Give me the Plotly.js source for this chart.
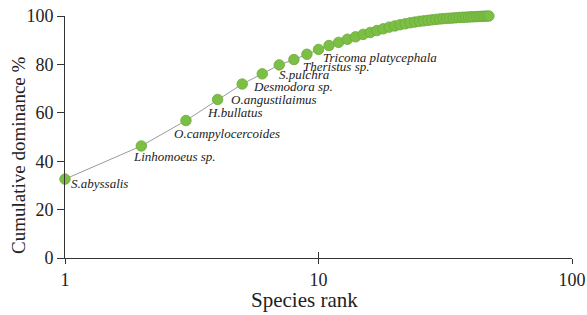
<!DOCTYPE html>
<html>
<head>
<meta charset="utf-8">
<script src="https://cdn.plot.ly/plotly-3.0.1.min.js"></script>
<style>html,body{margin:0;padding:0;background:#fff;}#chart{width:587px;height:315px;}</style>
</head>
<body>
<div id="chart"></div>
<script>
// Species rank (1..47) and cumulative dominance (%)
const ranks = [];
for (let i = 1; i <= 47; i++) ranks.push(i);
const cumDominance = [
  32.6, 46.3, 56.8, 65.5, 71.9, 76.1, 79.8, 82.0, 84.2, 86.2,
  87.8, 89.1, 90.4, 91.4, 92.4, 93.2, 94.0, 94.7, 95.4, 95.9,
  96.4, 96.8, 97.2, 97.5, 97.8, 98.0, 98.2, 98.4, 98.6, 98.75,
  98.9, 99.0, 99.1, 99.2, 99.3, 99.4, 99.45, 99.5, 99.6, 99.65,
  99.7, 99.75, 99.8, 99.85, 99.9, 99.95, 100.0
];
// Names of the dominant species (ranks 1..9)
const speciesNames = [
  "S.abyssalis", "Linhomoeus sp.", "O.campylocercoides", "H.bullatus",
  "O.angustilaimus", "Desmodora sp.", "S.pulchra", "Theristus sp.",
  "Tricoma platycephala"
];
const xTitle = "Species rank";
const yTitle = "Cumulative dominance %";
// label pixel offsets (style only)
const labelShift = [
  [4, -4], [-10, -11], [-14, -13], [-13, -13], [-13, -15],
  [-11, -13], [-2, -10], [7, -7], [14, -3]
];

const serif = "Liberation Serif, Times New Roman, serif";

const annotations = speciesNames.map((name, i) => ({
  x: Math.log10(ranks[i]), y: cumDominance[i], xref: 'x', yref: 'y',
  text: name, showarrow: false,
  xanchor: 'left', yanchor: 'middle',
  xshift: labelShift[i][0], yshift: labelShift[i][1],
  font: {family: serif, size: 13, color: '#222', style: 'italic'}
}));
annotations.push({
  xref: 'paper', yref: 'paper', x: -0.093, y: 0.425, xanchor: 'center', yanchor: 'middle',
  text: yTitle, textangle: -90, showarrow: false,
  font: {family: serif, size: 19, color: '#222'}
});
annotations.push({
  xref: 'paper', yref: 'paper', x: 0.472, y: -0.175, xanchor: 'center', yanchor: 'middle',
  text: xTitle, showarrow: false,
  font: {family: serif, size: 21, color: '#222'}
});

const traces = [
  {
    x: ranks, y: cumDominance, type: 'scatter', mode: 'lines',
    line: {color: '#9a9a9a', width: 1}, hoverinfo: 'skip', cliponaxis: false
  },
  {
    x: ranks, y: cumDominance, type: 'scatter', mode: 'markers',
    marker: {size: 10.5, color: '#7cbf45', line: {color: '#6aaa3a', width: 0.8}},
    cliponaxis: false
  },
  {x: [1, 100], y: [null, null], xaxis: 'x2', type: 'scatter', mode: 'markers', hoverinfo: 'skip'}
];

const layout = {
  width: 587, height: 315,
  margin: {l: 65, r: 15, t: 16, b: 57, pad: 0},
  paper_bgcolor: '#fff', plot_bgcolor: '#fff',
  showlegend: false,
  font: {family: serif, color: '#222'},
  xaxis: {
    type: 'log', range: [0, 2],
    tickvals: [1, 10, 100], ticktext: ['1', '10', '100'],
    ticks: 'outside', ticklen: 5, tickcolor: '#333', tickwidth: 1,
    showline: true, linecolor: '#333', linewidth: 1,
    showgrid: false, zeroline: false,
    tickfont: {family: serif, size: 18, color: '#222'}
  },
  xaxis2: {
    type: 'log', range: [0, 2], overlaying: 'x', anchor: 'y',
    tickvals: [10, 100], ticks: 'inside', ticklen: 6, tickcolor: '#333',
    showticklabels: false, showgrid: false, zeroline: false, showline: false
  },
  yaxis: {
    range: [0, 100], tickvals: [0, 20, 40, 60, 80, 100],
    ticks: 'outside', ticklen: 7, tickcolor: '#333', tickwidth: 1,
    showline: true, linecolor: '#333', linewidth: 1,
    showgrid: false, zeroline: false,
    tickfont: {family: serif, size: 18, color: '#222'}
  },
  annotations: annotations
};

Plotly.newPlot('chart', traces, layout, {displayModeBar: false, staticPlot: true});
</script>
</body>
</html>
